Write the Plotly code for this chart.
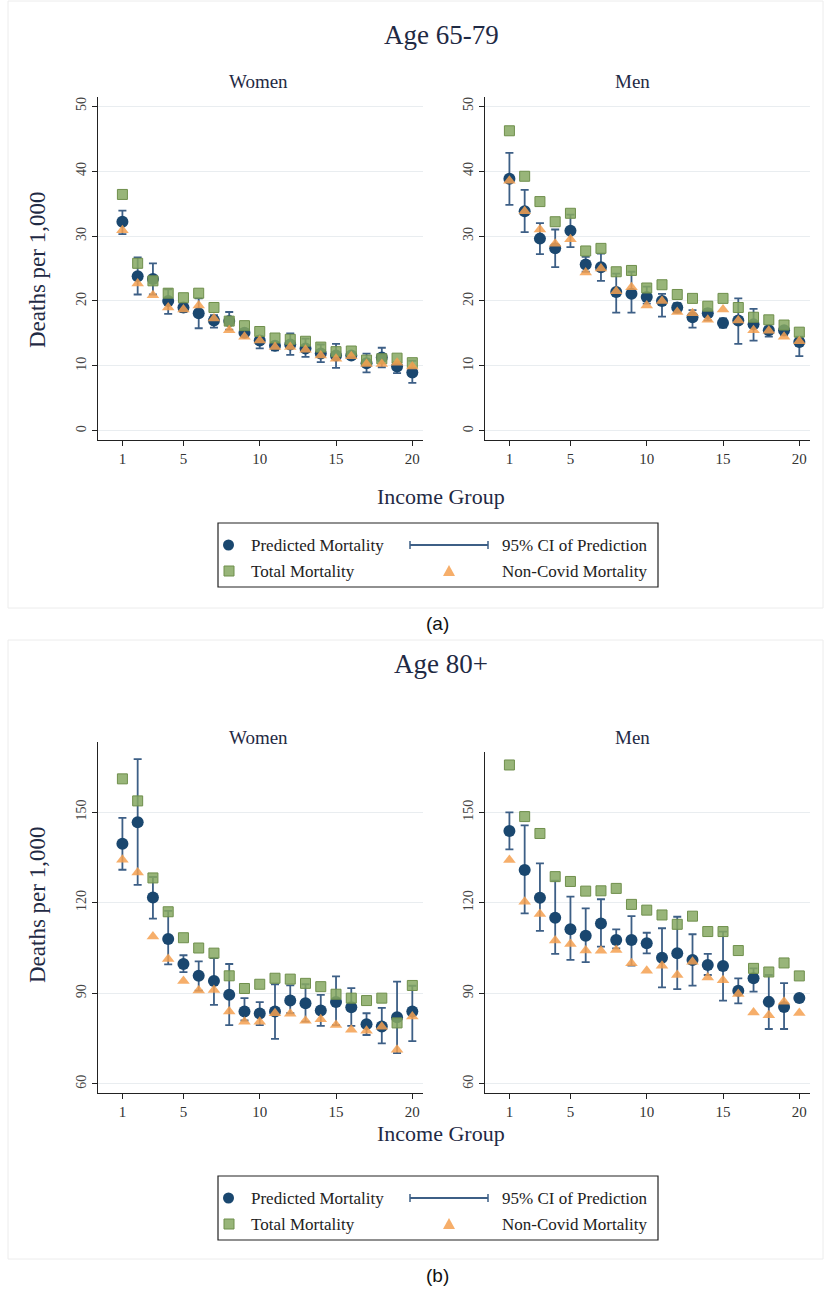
import plotly.graph_objects as go

W, H = 824, 1290

groups = list(range(1, 21))

# ---------- Panel (a): Age 65-79 ----------
a_women_pred = [32.2, 23.8, 23.4, 20.0, 19.0, 18.1, 17.0, 16.9, 15.1, 13.9, 13.1, 13.3, 12.7, 11.9, 11.6, 11.6, 10.4, 11.3, 9.9, 9.0]
a_women_lo   = [30.3, 21.0, 21.0, 18.0, 18.3, 15.8, 15.9, 15.6, 14.5, 12.7, 12.4, 11.7, 11.4, 10.6, 9.7, 11.1, 9.0, 9.8, 8.9, 7.4]
a_women_hi   = [33.9, 26.7, 25.8, 21.8, 19.3, 20.4, 17.8, 18.3, 15.7, 14.6, 13.7, 15.0, 14.2, 13.3, 13.4, 11.9, 11.9, 12.8, 10.6, 10.8]
a_women_total = [36.4, 25.8, 23.1, 21.2, 20.5, 21.2, 19.0, 16.9, 16.2, 15.3, 14.3, 14.1, 13.8, 12.9, 12.2, 12.3, 10.9, 11.1, 11.2, 10.5]
a_women_noncovid = [30.9, 22.7, 20.9, 19.0, 18.7, 19.3, 17.3, 15.5, 14.5, 13.9, 12.9, 12.9, 12.5, 11.6, 11.1, 11.5, 10.3, 10.3, 10.5, 9.9]

a_men_pred = [38.8, 33.8, 29.6, 28.1, 30.8, 25.6, 25.2, 21.4, 21.1, 20.6, 20.0, 19.0, 17.5, 18.1, 16.6, 17.0, 16.4, 15.5, 15.5, 13.7]
a_men_lo   = [34.8, 30.6, 27.2, 25.2, 28.3, 24.5, 23.1, 18.2, 18.2, 19.6, 17.6, 18.2, 15.9, 17.0, 15.9, 13.4, 13.9, 14.5, 14.7, 11.5]
a_men_hi   = [42.8, 37.1, 32.0, 31.0, 33.3, 26.8, 27.3, 24.2, 24.5, 22.2, 21.1, 19.7, 18.6, 18.8, 17.3, 20.4, 18.8, 16.0, 16.0, 14.5]
a_men_total = [46.2, 39.2, 35.3, 32.2, 33.5, 27.7, 28.1, 24.5, 24.7, 22.0, 22.5, 21.0, 20.4, 19.2, 20.4, 19.0, 17.5, 17.1, 16.3, 15.2]
a_men_noncovid = [38.5, 33.8, 31.0, 28.8, 29.5, 24.4, 25.0, 21.5, 22.1, 19.3, 20.0, 18.3, 18.1, 17.1, 18.7, 17.0, 15.5, 15.4, 14.5, 13.8]

# ---------- Panel (b): Age 80+ ----------
b_women_pred = [139.5, 146.6, 121.7, 108.0, 99.7, 95.8, 94.1, 89.5, 84.0, 83.3, 84.0, 87.6, 86.7, 84.3, 87.1, 85.4, 79.8, 79.0, 82.1, 84.0]
b_women_lo   = [130.9, 125.9, 114.7, 99.6, 97.0, 90.9, 86.2, 79.5, 81.0, 79.5, 74.9, 83.4, 80.6, 79.2, 79.5, 79.2, 76.2, 73.4, 70.2, 74.2]
b_women_hi   = [148.1, 167.5, 128.5, 117.3, 102.6, 100.6, 101.7, 99.7, 88.4, 87.1, 93.0, 92.6, 93.0, 89.5, 95.6, 91.7, 83.4, 85.2, 93.9, 92.5]
b_women_total = [161.0, 153.7, 128.2, 117.0, 108.4, 105.0, 103.3, 95.8, 91.6, 93.0, 95.0, 94.7, 93.3, 92.2, 89.7, 88.4, 87.6, 88.4, 80.2, 92.6]
b_women_noncovid = [134.2, 130.0, 108.8, 101.4, 94.1, 90.9, 91.1, 84.0, 80.6, 80.6, 83.4, 83.2, 80.9, 81.4, 79.5, 77.9, 77.6, 78.9, 71.3, 82.3]

b_men_pred = [143.8, 130.9, 121.7, 115.1, 111.3, 109.1, 113.2, 107.7, 107.7, 106.6, 101.8, 103.3, 101.1, 99.4, 99.1, 90.9, 95.0, 87.2, 85.5, 88.5]
b_men_lo   = [137.7, 116.5, 110.7, 103.1, 101.1, 100.4, 105.5, 104.9, 99.2, 103.3, 92.0, 91.4, 92.6, 96.1, 87.6, 86.7, 90.6, 78.2, 78.2, 88.0]
b_men_hi   = [150.0, 145.7, 133.1, 127.4, 122.1, 118.2, 121.2, 111.2, 115.6, 110.1, 111.6, 115.4, 109.6, 103.1, 110.5, 95.0, 98.3, 96.1, 93.4, 89.0]
b_men_total = [165.7, 148.6, 143.0, 128.7, 127.1, 123.9, 124.0, 124.8, 119.5, 117.6, 116.0, 112.9, 115.6, 110.5, 110.5, 104.2, 98.3, 97.1, 100.1, 95.8]
b_men_noncovid = [134.2, 120.4, 116.3, 107.5, 106.4, 104.2, 104.1, 104.4, 100.0, 97.5, 99.2, 96.1, 100.5, 95.3, 94.4, 89.8, 83.7, 82.8, 87.2, 83.5]

x_ticks = [1, 5, 10, 15, 20]
a_y_ticks = [0, 10, 20, 30, 40, 50]
b_y_ticks = [60, 90, 120, 150]

legend_labels = ["Predicted Mortality", "95% CI of Prediction", "Total Mortality", "Non-Covid Mortality"]

NAVY = "#1a476f"
CI_COL = "#3d5f86"
GREEN = "rgba(134,168,98,0.85)"
GREEN_EDGE = "#6f8f4c"
ORANGE = "rgba(244,160,80,0.85)"
TXT = "#1f2a44"
SERIF = "Liberation Serif"


def px_x(p):
    return p / W


def px_y(p):
    return 1 - p / H


fig = go.Figure()

panels = [
    (1, (98, 423), (97, 440), (-1.4, 51.4), a_y_ticks, a_women_pred, a_women_lo, a_women_hi, a_women_total, a_women_noncovid),
    (2, (485, 810), (97, 440), (-1.4, 51.4), a_y_ticks, a_men_pred, a_men_lo, a_men_hi, a_men_total, a_men_noncovid),
    (3, (98, 423), (742, 1093), (57, 173.2), b_y_ticks, b_women_pred, b_women_lo, b_women_hi, b_women_total, b_women_noncovid),
    (4, (485, 810), (752, 1093), (57, 170.0), b_y_ticks, b_men_pred, b_men_lo, b_men_hi, b_men_total, b_men_noncovid),
]

layout_axes = {}
for idx, xd, yd, yr, yt, pred, lo, hi, tot, nc in panels:
    xa = "x" if idx == 1 else f"x{idx}"
    ya = "y" if idx == 1 else f"y{idx}"
    plus = [h - p for h, p in zip(hi, pred)]
    minus = [p - l for p, l in zip(pred, lo)]
    fig.add_trace(go.Scatter(
        x=groups, y=pred, mode="markers", xaxis=xa, yaxis=ya, showlegend=False,
        marker=dict(symbol="circle", size=12, color=NAVY),
        error_y=dict(type="data", symmetric=False, array=plus, arrayminus=minus,
                     color=CI_COL, thickness=1.8, width=4),
    ))
    fig.add_trace(go.Scatter(
        x=groups, y=tot, mode="markers", xaxis=xa, yaxis=ya, showlegend=False,
        marker=dict(symbol="square", size=10, color=GREEN, line=dict(color=GREEN_EDGE, width=1)),
    ))
    fig.add_trace(go.Scatter(
        x=groups, y=nc, mode="markers", xaxis=xa, yaxis=ya, showlegend=False,
        marker=dict(symbol="triangle-up", size=11, color=ORANGE, line=dict(width=0)),
    ))
    xkey = "xaxis" if idx == 1 else f"xaxis{idx}"
    ykey = "yaxis" if idx == 1 else f"yaxis{idx}"
    layout_axes[xkey] = dict(
        domain=[px_x(xd[0]), px_x(xd[1])], range=[-0.6, 20.7], anchor=ya,
        tickmode="array", tickvals=x_ticks, ticktext=[str(v) for v in x_ticks],
        showline=True, linecolor="#222", linewidth=1, ticks="outside", ticklen=5,
        tickcolor="#222", showgrid=False, zeroline=False,
        tickfont=dict(family=SERIF, size=15, color="#333"),
    )
    layout_axes[ykey] = dict(
        domain=[px_y(yd[1]), px_y(yd[0])], range=list(yr), anchor=xa,
        tickmode="array", tickvals=yt, ticktext=[str(v) for v in yt], tickangle=-90,
        showline=True, linecolor="#222", linewidth=1, ticks="outside", ticklen=5,
        tickcolor="#222", showgrid=True, gridcolor="#e9edf0", gridwidth=1, zeroline=False,
        tickfont=dict(family=SERIF, size=14, color="#444"),
    )

fig.update_layout(**layout_axes)

annotations = []
shapes = []


def add_text(text, x, y, size, color=TXT, family=SERIF, angle=0, xanchor="center"):
    annotations.append(dict(text=text, x=px_x(x), y=px_y(y), xref="paper", yref="paper",
                            showarrow=False, textangle=angle, xanchor=xanchor, yanchor="middle",
                            font=dict(family=family, size=size, color=color)))


# panel frames
for top, bottom in [(1, 608), (640, 1259)]:
    shapes.append(dict(type="rect", xref="paper", yref="paper", x0=px_x(8), x1=px_x(823),
                       y0=px_y(bottom), y1=px_y(top), line=dict(color="#ececec", width=1), layer="below"))

for (title, ty, sy, ay, iy, ly, lab, laby) in [
    ("Age 65-79", 35, 82, 270, 497, 523, "(a)", 623),
    ("Age 80+", 664, 738, 905, 1133, 1176, "(b)", 1275),
]:
    add_text(title, 441, ty, 27)
    add_text("Women", 258, sy, 19)
    add_text("Men", 632, sy, 19)
    add_text("Deaths per 1,000", 37, ay, 23, angle=-90)
    add_text("Income Group", 441, iy, 22)
    add_text(lab, 437, laby, 19, color="#111", family="Liberation Sans")
    # legend box
    shapes.append(dict(type="rect", xref="paper", yref="paper", x0=px_x(218), x1=px_x(658),
                       y0=px_y(ly + 64), y1=px_y(ly), line=dict(color="#222", width=1.2),
                       fillcolor="white"))
    r1 = ly + 22
    r2 = ly + 48
    shapes.append(dict(type="circle", xref="paper", yref="paper",
                       x0=px_x(223), x1=px_x(234), y0=px_y(r1 + 5.5), y1=px_y(r1 - 5.5),
                       fillcolor=NAVY, line=dict(color=NAVY, width=0)))
    add_text(legend_labels[0], 249, r1, 17, color="#222", xanchor="left")
    shapes.append(dict(type="line", xref="paper", yref="paper", x0=px_x(410), x1=px_x(488),
                       y0=px_y(r1), y1=px_y(r1), line=dict(color=CI_COL, width=1.8)))
    for cx in (410, 488):
        shapes.append(dict(type="line", xref="paper", yref="paper", x0=px_x(cx), x1=px_x(cx),
                           y0=px_y(r1 - 4), y1=px_y(r1 + 4), line=dict(color=CI_COL, width=1.5)))
    add_text(legend_labels[1], 500, r1, 17, color="#222", xanchor="left")
    shapes.append(dict(type="rect", xref="paper", yref="paper",
                       x0=px_x(224), x1=px_x(234), y0=px_y(r2 + 5), y1=px_y(r2 - 5),
                       fillcolor=GREEN, line=dict(color=GREEN_EDGE, width=1)))
    add_text(legend_labels[2], 249, r2, 17, color="#222", xanchor="left")
    tx0, tx1, tx2 = px_x(443), px_x(455), px_x(449)
    tyb, tyt = px_y(r2 + 5), px_y(r2 - 6)
    shapes.append(dict(type="path", xref="paper", yref="paper",
                       path=f"M {tx0} {tyb} L {tx1} {tyb} L {tx2} {tyt} Z",
                       fillcolor=ORANGE, line=dict(width=0)))
    add_text(legend_labels[3], 500, r2, 17, color="#222", xanchor="left")

fig.update_layout(
    width=W, height=H, margin=dict(l=0, r=0, t=0, b=0),
    paper_bgcolor="white", plot_bgcolor="white", showlegend=False,
    annotations=annotations, shapes=shapes,
)

fig.write_html(
    "out.html",
    config={"displayModeBar": False},
    post_script="document.body.style.margin='0';document.body.style.overflow='hidden';",
)
